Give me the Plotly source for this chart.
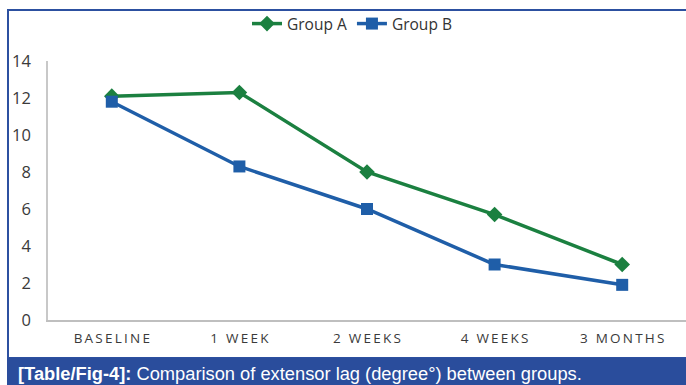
import plotly.graph_objects as go

categories = ["BASELINE", "1 WEEK", "2 WEEKS", "4 WEEKS", "3 MONTHS"]
group_a = [12.1, 12.3, 8.0, 5.7, 3.0]
group_b = [11.8, 8.3, 6.0, 3.0, 1.9]
y_ticks = [0, 2, 4, 6, 8, 10, 12, 14]

W, H = 686, 385
L, R, T, B = 48, 0, 61, 65

def px_x(p):
    return (p - L) / (W - L - R)

def px_y(p):
    return 1 - (p - T) / (H - T - B)

green = "#1b8040"
blue = "#1f5ea8"

fig = go.Figure()
fig.add_trace(go.Scatter(x=categories, y=group_a, name="Group A", mode="lines+markers",
                         line=dict(color=green, width=3.5),
                         marker=dict(symbol="diamond", size=12, color=green)))
fig.add_trace(go.Scatter(x=categories, y=group_b, name="Group B", mode="lines+markers",
                         line=dict(color=blue, width=3.5),
                         marker=dict(symbol="square", size=12, color=blue)))

ticktext = ["\u2009".join(list(c)) for c in categories]

fig.update_layout(
    width=W, height=H,
    margin=dict(l=L, r=R, t=T, b=B),
    paper_bgcolor="white", plot_bgcolor="white",
    showlegend=True,
    legend=dict(orientation="h", x=px_x(352), xanchor="center", y=px_y(24), yanchor="middle",
                font=dict(family="Open Sans", size=15.5, color="#333333"),
                bgcolor="rgba(0,0,0,0)",
                itemwidth=30, tracegroupgap=0),
    xaxis=dict(tickvals=categories, ticktext=ticktext, showgrid=False,
               showline=True, linecolor="#bfbfbf", linewidth=2,
               tickfont=dict(family="Open Sans", size=13.5, color="#3a3a3a"),
               ticks="outside", ticklen=5, tickcolor="rgba(0,0,0,0)",
               range=[-0.5, 4.5]),
    yaxis=dict(range=[0, 14], tickvals=y_ticks, showgrid=False,
               showline=True, linecolor="#c8c8c8", linewidth=1.5,
               tickfont=dict(family="Open Sans", size=16.5, color="#3a3a3a"),
               ticklabelstandoff=12, zeroline=False),
    shapes=[
        dict(type="rect", xref="paper", yref="paper",
             x0=px_x(8), x1=px_x(700), y0=px_y(358), y1=px_y(10),
             line=dict(color="#2c50a0", width=2), fillcolor="rgba(0,0,0,0)", layer="below"),
        dict(type="rect", xref="paper", yref="paper",
             x0=px_x(7), x1=px_x(700), y0=px_y(390), y1=px_y(358),
             line=dict(width=0), fillcolor="#2a4d9c", layer="above"),
    ],
    annotations=[
        dict(xref="paper", yref="paper", x=px_x(16), y=px_y(373), xanchor="left", yanchor="middle",
             showarrow=False,
             text="<b>[Table/Fig-4]:</b> Comparison of extensor lag (degree°) between groups.",
             font=dict(family="Liberation Sans", size=18.3, color="white")),
    ],
)

fig.write_html("out.html")
